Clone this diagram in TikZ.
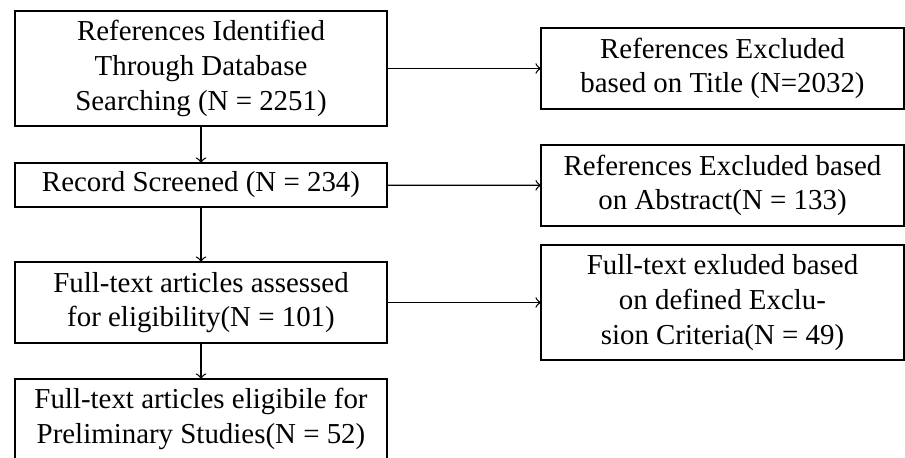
\documentclass[tikz,border=0pt]{standalone}
\usepackage{fontspec}
\setmainfont{Liberation Serif}
\begin{document}
\begin{tikzpicture}[x=0.346pt,y=-0.346pt,>=to,
	stage/.style={draw,line width=0.45pt,align=center,inner sep=0pt,outer sep=0pt,
		minimum width=128.7pt},
	excl/.style={stage,minimum width=125.6pt}]
\useasboundingbox (0,0) rectangle (905,458);
\def\lx{201}
\def\rx{722.5}
% left column
\node[stage,minimum height=39.8pt] (ident) at (\lx,68.5)
	{References Identified\\Through Database\\Searching (N = 2251)};
\node[stage,minimum height=15.2pt] (screen) at (\lx,185)
	{Record Screened (N = 234)};
\node[stage,minimum height=28pt] (assess) at (\lx,302.5)
	{Full-text articles assessed\\for eligibility(N = 101)};
\node[stage,minimum height=27.5pt,anchor=north] (elig) at (\lx,379)
	{Full-text articles eligibile for\\Preliminary Studies(N = 52)};
% right column
\node[excl,minimum height=28pt] (extitle) at (\rx,68.5)
	{References Excluded\\based on Title (N=2032)};
\node[excl,minimum height=28pt] (exabs) at (\rx,185.5)
	{References Excluded based\\on Abstract(N = 133)};
\node[excl,minimum height=39.8pt] (excrit) at (\rx,302.5)
	{Full-text exluded based\\on defined Exclu-\\sion Criteria(N = 49)};
% connectors
\draw[->,line width=0.45pt] (ident)--(screen);
\draw[->,line width=0.45pt] (screen)--(assess);
\draw[->,line width=0.45pt] (assess)--(elig);
\draw[->,line width=0.45pt] (ident)--(extitle);
\draw[->,line width=0.45pt] (screen)--(exabs);
\draw[->,line width=0.45pt] (assess)--(excrit);
\end{tikzpicture}
\end{document}
